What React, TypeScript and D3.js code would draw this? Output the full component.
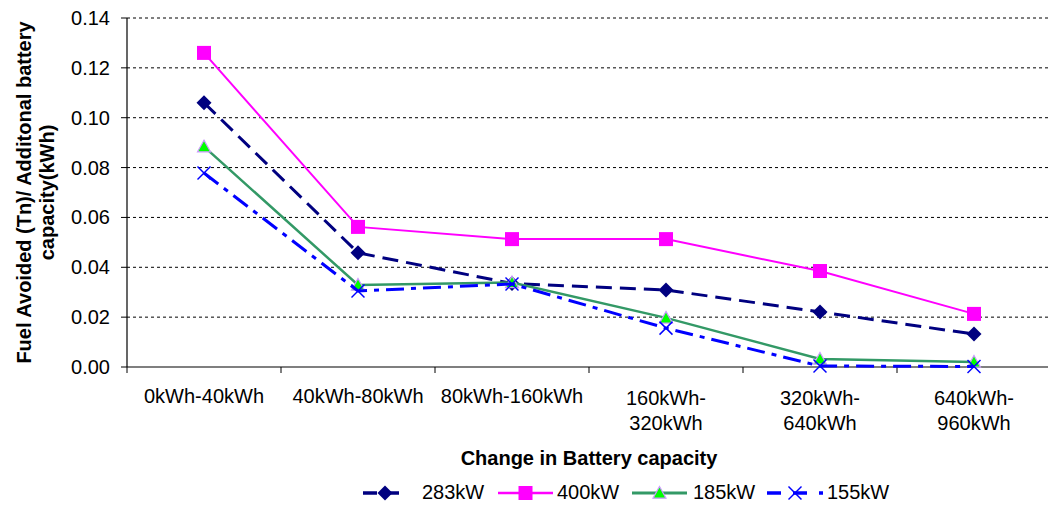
import React from "react";
import * as d3 from "d3";

const categories = [
  ["0kWh-40kWh"],
  ["40kWh-80kWh"],
  ["80kWh-160kWh"],
  ["160kWh-", "320kWh"],
  ["320kWh-", "640kWh"],
  ["640kWh-", "960kWh"],
];
const s283 = [0.106, 0.0458, 0.0335, 0.0309, 0.0221, 0.0132];
const s400 = [0.126, 0.0562, 0.0513, 0.0513, 0.0385, 0.0213];
const s185 = [0.0884, 0.0329, 0.0339, 0.0197, 0.0032, 0.002];
const s155 = [0.0778, 0.0305, 0.0333, 0.0156, 0.0004, 0.0002];
const yTicks = [0, 0.02, 0.04, 0.06, 0.08, 0.1, 0.12, 0.14];

const series = [
  { name: "283kW", values: s283, color: "#000080", dash: "16,8", width: 3, marker: "diamond" },
  { name: "400kW", values: s400, color: "#FF00FF", dash: "", width: 2, marker: "square" },
  { name: "185kW", values: s185, color: "#339966", dash: "", width: 2.5, marker: "triangle" },
  { name: "155kW", values: s155, color: "#0000FF", dash: "18,7,5,7", width: 3, marker: "x" },
];

const font = "'Liberation Sans', Arial, sans-serif";

function Marker({ type, x, y }: { type: string; x: number; y: number }) {
  if (type === "diamond") {
    const r = 7.5;
    return <polygon points={`${x},${y - r} ${x + r},${y} ${x},${y + r} ${x - r},${y}`} fill="#000080" />;
  }
  if (type === "square") {
    const r = 7;
    return <rect x={x - r} y={y - r} width={2 * r} height={2 * r} fill="#FF00FF" />;
  }
  if (type === "triangle") {
    const r = 6.5;
    return (
      <polygon
        points={`${x},${y - r} ${x + r},${y + r * 0.8} ${x - r},${y + r * 0.8}`}
        fill="#00FF00"
        stroke="#CC99FF"
        strokeWidth={1.2}
      />
    );
  }
  const r = 6.5;
  return (
    <g stroke="#0000FF" strokeWidth={1.5}>
      <line x1={x - r} y1={y - r} x2={x + r} y2={y + r} />
      <line x1={x - r} y1={y + r} x2={x + r} y2={y - r} />
    </g>
  );
}

export default function App() {
  const W = 1048, H = 507;
  const left = 127, right = 1051, top = 18, bottom = 367;
  const x = d3.scaleBand<number>().domain(categories.map((_, i) => i)).range([left, right]);
  const y = d3.scaleLinear().domain([0, 0.14]).range([bottom, top]);
  const cx = (i: number) => (x(i) as number) + x.bandwidth() / 2;
  const line = d3.line<number>().x((_, i) => cx(i)).y((d) => y(d));

  const legendItems = [
    { s: series[0], x1: 363, x2: 407, tx: 422 },
    { s: series[1], x1: 498, x2: 553, tx: 557 },
    { s: series[2], x1: 632, x2: 687, tx: 693 },
    { s: series[3], x1: 767, x2: 823, tx: 827 },
  ];

  return (
    <svg width={W} height={H} style={{ position: "absolute", left: 0, top: 0, background: "#fff" }} fontFamily={font}>
      <rect width={W} height={H} fill="#fff" />
      {yTicks.map((t) => (
        <g key={t}>
          {t > 0 && (
            <line x1={left} x2={right} y1={y(t)} y2={y(t)} stroke="#000" strokeWidth={1} strokeDasharray="3,3" />
          )}
          <line x1={left - 6} x2={left} y1={y(t)} y2={y(t)} stroke="#000" />
          <text x={110} y={y(t) + 7} textAnchor="end" fontSize={20}>
            {t.toFixed(2)}
          </text>
        </g>
      ))}
      <line x1={left} x2={left} y1={top} y2={bottom} stroke="#000" strokeWidth={1.2} />
      <line x1={left} x2={right} y1={bottom} y2={bottom} stroke="#000" strokeWidth={1.2} />
      {categories.map((_, i) => (
        <line key={i} x1={x(i) as number} x2={x(i) as number} y1={bottom} y2={bottom + 6} stroke="#000" />
      ))}
      {categories.map((c, i) =>
        c.map((l, j) => (
          <text
            key={i + "-" + j}
            x={cx(i)}
            y={(c.length === 1 ? 403 : 405) + j * 25}
            textAnchor="middle"
            fontSize={20}
          >
            {l}
          </text>
        ))
      )}
      <text x={589} y={465} textAnchor="middle" fontSize={20} fontWeight="bold">
        Change in Battery capacity
      </text>
      <g transform={`translate(0, ${(top + bottom) / 2}) rotate(-90)`}>
        <text x={0} y={31} textAnchor="middle" fontSize={20} fontWeight="bold">
          Fuel Avoided (Tn)/ Additonal battery
        </text>
        <text x={0} y={54} textAnchor="middle" fontSize={20} fontWeight="bold">
          capacity(kWh)
        </text>
      </g>
      {series.map((s) => (
        <g key={s.name}>
          <path
            d={line(s.values) || ""}
            fill="none"
            stroke={s.color}
            strokeWidth={s.width}
            strokeDasharray={s.dash || undefined}
          />
          {s.values.map((v, i) => (
            <Marker key={i} type={s.marker} x={cx(i)} y={y(v)} />
          ))}
        </g>
      ))}
      {legendItems.map(({ s, x1, x2, tx }) => (
        <g key={s.name}>
          <line
            x1={x1}
            x2={x2}
            y1={493}
            y2={493}
            stroke={s.color}
            strokeWidth={s.width + 0.5}
            strokeDasharray={s.name === "283kW" ? "14,8" : s.name === "155kW" ? "14,12" : undefined}
          />
          <Marker type={s.marker} x={(x1 + x2) / 2} y={493} />
          <text x={tx} y={499} fontSize={20}>
            {s.name}
          </text>
        </g>
      ))}
    </svg>
  );
}
